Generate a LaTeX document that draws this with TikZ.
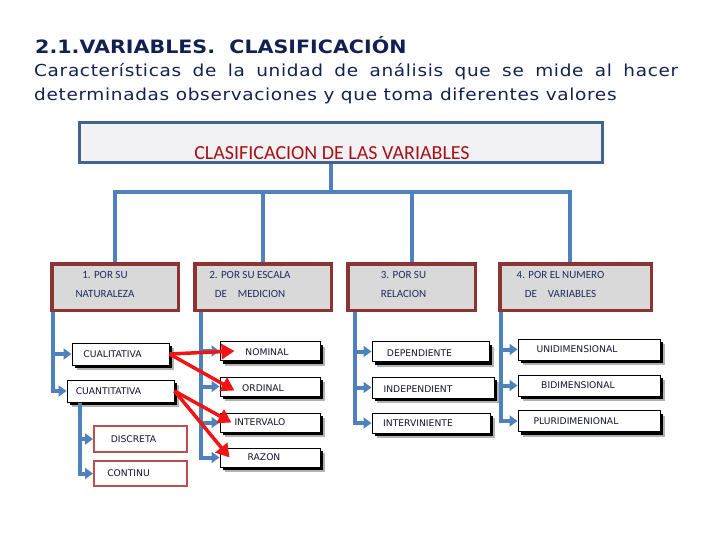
\documentclass[tikz,border=0pt]{standalone}
\usepackage{fontspec}
\setmainfont{DejaVu Sans}
\newfontfamily\headfont[FakeStretch=1.12]{DejaVu Sans}
\newfontfamily\bodyfont[FakeStretch=1.12,LetterSpace=4]{DejaVu Sans}
\newfontfamily\calfont{Carlito}
\usetikzlibrary{arrows.meta,positioning,calc,shadows,backgrounds}
\definecolor{titlenavy}{RGB}{18,32,82}
\definecolor{frameblue}{RGB}{65,100,140}
\definecolor{framefill}{RGB}{242,242,244}
\definecolor{treeblue}{RGB}{79,129,189}
\definecolor{catred}{RGB}{140,52,52}
\definecolor{catfill}{RGB}{217,217,217}
\definecolor{catnavy}{RGB}{31,45,96}
\definecolor{headred}{RGB}{165,18,22}
\definecolor{subred}{RGB}{185,80,80}
\definecolor{arrowred}{RGB}{240,20,20}
\definecolor{boxtext}{RGB}{20,20,45}
\begin{document}
\begin{tikzpicture}[x=1pt,y=-1pt,>=Latex]
  \tikzset{bigbox/.style={draw=frameblue,fill=framefill,line width=3.3pt,minimum width=522.7pt,minimum height=39.7pt}}
  \tikzset{cat/.style={draw=catred,fill=catfill,line width=3.5pt,minimum height=46.5pt}}
  \tikzset{cattxt/.style={font=\calfont\fontsize{11}{19}\selectfont,text=catnavy,align=center,inner sep=0pt}}
  \tikzset{vbox/.style={draw=black,fill=white,line width=1pt,minimum height=19pt,
      general shadow={fill=black!30,shadow xshift=4.5pt,shadow yshift=-5pt},
      general shadow={fill=black,shadow xshift=3pt,shadow yshift=-3pt}}}
  \tikzset{subbox/.style={draw=subred,fill=white,line width=2pt,minimum width=93pt}}
  \tikzset{vtxt/.style={font=\fontsize{9.2}{10}\selectfont,text=boxtext,inner sep=0pt}}
  \tikzset{tree/.style={draw=treeblue,line width=4pt}}
  \tikzset{tip/.style={-{Triangle[length=8pt,width=11pt]}}}
  \tikzset{redarr/.style={draw=arrowred,line width=3.5pt,-{Triangle[length=13pt,width=15pt]}}}
  \useasboundingbox (0,0) rectangle (720,540);
  % heading
  \node[anchor=base west,inner sep=0pt,text=titlenavy,font=\headfont\bfseries\fontsize{18.4}{22}\selectfont] (title) at (35,54) {2.1.VARIABLES.\ \ CLASIFICACIÓN};
  \node[anchor=base west,inner sep=0pt,text=titlenavy,font=\bodyfont\fontsize{16.5}{24}\selectfont] (def1) at (34,77) {\makebox[644pt][s]{Características de la unidad de análisis que se mide al hacer}};
  \node[anchor=base west,inner sep=0pt,text=titlenavy,font=\bodyfont\fontsize{16.5}{24}\selectfont] (def2) at (34,101) {determinadas observaciones y que toma diferentes valores};
  % main frame
  \node[bigbox,label={[text=headred,font=\calfont\fontsize{20}{24}\selectfont,xshift=-9pt,yshift=-11pt]center:CLASIFICACION DE LAS VARIABLES}] (clas) at (341,142.5) {};
  % categories
  \node[cat,minimum width=126.5pt,label={[cattxt,xshift=-10pt,yshift=2.5pt]center:{1. POR SU\\NATURALEZA}}] (nat) at (115,287) {};
  \node[cat,minimum width=136.5pt,label={[cattxt,xshift=-13pt,yshift=2.5pt]center:{2. POR SU ESCALA\\DE\quad MEDICION}}] (esc) at (263,287) {};
  \node[cat,minimum width=127.5pt,label={[cattxt,xshift=-8pt,yshift=2.5pt]center:{3. POR SU\\RELACION}}] (rel) at (411.5,287) {};
  \node[cat,minimum width=151.5pt,label={[cattxt,xshift=-15pt,yshift=2.5pt]center:{4. POR EL NUMERO\\DE\quad VARIABLES}}] (num) at (575.5,287) {};
  % por su naturaleza
  \node[vbox,minimum width=97pt,minimum height=22pt,label={[vtxt,xshift=-8pt]center:CUALITATIVA}] (cual) at (120.5,354) {};
  \node[vbox,minimum width=107pt,minimum height=22pt,label={[vtxt,xshift=-12pt]center:CUANTITATIVA}] (cuan) at (120.5,391) {};
  \node[subbox,minimum height=26pt,label={[vtxt,xshift=-7pt]center:DISCRETA}] (disc) at (140.5,439) {};
  \node[subbox,minimum height=25pt,label={[vtxt,xshift=-12pt]center:CONTINU}] (cont) at (140.5,473.5) {};
  % por su escala
  \node[vbox,minimum width=100pt,label={[vtxt,xshift=-3pt,yshift=-1.5pt]center:NOMINAL}] (nom) at (270,351) {};
  \node[vbox,minimum width=100pt,label={[vtxt,xshift=-7pt,yshift=-1.5pt]center:ORDINAL}] (ord) at (270,386.5) {};
  \node[vbox,minimum width=100pt,label={[vtxt,xshift=-10pt]center:INTERVALO}] (inte) at (270,422.5) {};
  \node[vbox,minimum width=100pt,label={[vtxt,xshift=-6pt]center:RAZON}] (raz) at (270,457.5) {};
  % por su relacion
  \node[vbox,minimum width=117pt,minimum height=20pt,label={[vtxt,xshift=-11pt,yshift=-1.5pt]center:DEPENDIENTE}] (dep) at (430.5,351.5) {};
  \node[vbox,minimum width=122pt,minimum height=21pt,label={[vtxt,xshift=-15pt,yshift=-1.5pt]center:INDEPENDIENT}] (ind) at (433,387.5) {};
  \node[vbox,minimum width=118pt,minimum height=20pt,label={[vtxt,xshift=-13pt]center:INTERVINIENTE}] (intv) at (431,423) {};
  % por el numero de variables
  \node[vbox,minimum width=142pt,minimum height=21pt,label={[vtxt,xshift=-12pt]center:UNIDIMENSIONAL}] (uni) at (589,349.5) {};
  \node[vbox,minimum width=142pt,minimum height=21pt,label={[vtxt,xshift=-11pt]center:BIDIMENSIONAL}] (bid) at (589,385.5) {};
  \node[vbox,minimum width=142pt,minimum height=21pt,label={[vtxt,xshift=-13pt]center:PLURIDIMENIONAL}] (plu) at (589,421) {};
  % blue tree
  \coordinate (bar) at (0,192);
  \begin{scope}[on background layer]
    \draw[tree] ([xshift=-10pt]clas.south) -- ([xshift=-10pt]clas.south |- bar);
    \draw[tree] (nat.north) -- (nat.north |- bar) -- ([xshift=-6pt]num.north |- bar) -- ([xshift=-6pt]num.north);
    \draw[tree] (esc.north) -- (esc.north |- bar);
    \draw[tree] (rel.north) -- (rel.north |- bar);
  \end{scope}
  \draw[tree,tip] ([xshift=3pt]nat.south west) |- (cual.west);
  \draw[tree,tip] ([xshift=3pt]nat.south west) |- (cuan.west);
  \draw[tree,tip] ([xshift=13pt]cuan.south west) |- (disc.west);
  \draw[tree,tip] ([xshift=13pt]cuan.south west) |- (cont.west);
  \foreach \n in {nom,ord,inte,raz}
    \draw[tree,tip] ([xshift=8pt]esc.south west) |- (\n.west);
  \foreach \n in {dep,ind,intv}
    \draw[tree,tip] ([xshift=9pt]rel.south west) |- (\n.west);
  \foreach \n in {uni,bid,plu}
    \draw[tree,tip] ([xshift=3pt]num.south west) |- (\n.west);
  % red links
  \draw[redarr] (cual.east) -- ([xshift=15pt]nom.west);
  \draw[redarr] (cual.east) -- ([xshift=15pt,yshift=-4pt]ord.west);
  \draw[redarr] (cuan.east) -- ([xshift=12pt]inte.west);
  \draw[redarr] (cuan.east) -- ([xshift=10pt]raz.west);
\end{tikzpicture}
\end{document}
